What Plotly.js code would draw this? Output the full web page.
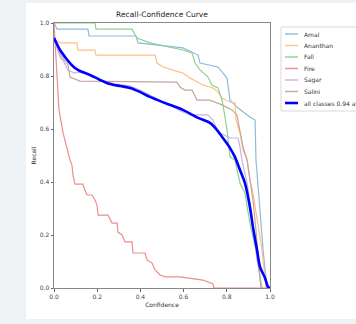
<!DOCTYPE html>
<html>
<head>
<meta charset="utf-8">
<script src="https://cdn.plot.ly/plotly-3.0.1.min.js"></script>
<style>
html,body{margin:0;padding:0;background:#eef2f5;}
#chart{width:356px;height:324px;}
</style>
</head>
<body>
<div id="chart"></div>
<script>
// ---- Data ----
const seriesNames = ["Amal", "Ananthan", "Fall", "Fire", "Sagar", "Salini", "all classes 0.94 at 0.000"];

const amalX = [0, 0.014, 0.157, 0.162, 0.38, 0.389, 0.597, 0.667, 0.676, 0.759, 0.801, 0.815, 0.852, 0.907, 0.931, 0.935, 0.94, 0.968, 0.986];
const amalY = [1.0, 0.977, 0.977, 0.951, 0.951, 0.925, 0.906, 0.879, 0.849, 0.834, 0.792, 0.709, 0.679, 0.645, 0.634, 0.483, 0.434, 0.143, 0];

const ananthanX = [0, 0.028, 0.106, 0.111, 0.19, 0.194, 0.468, 0.477, 0.505, 0.597, 0.63, 0.69, 0.736, 0.759, 0.778, 0.815, 0.838, 0.843, 0.861, 0.875, 0.894, 0.907, 0.921, 0.94, 0.963, 0.977, 0.981];
const ananthanY = [0.94, 0.925, 0.925, 0.898, 0.898, 0.879, 0.879, 0.849, 0.834, 0.811, 0.792, 0.766, 0.755, 0.74, 0.717, 0.702, 0.698, 0.634, 0.585, 0.521, 0.483, 0.408, 0.358, 0.268, 0.143, 0.042, 0];

const fallX = [0, 0.19, 0.194, 0.361, 0.384, 0.444, 0.597, 0.639, 0.653, 0.676, 0.713, 0.731, 0.759, 0.778, 0.792, 0.801, 0.815, 0.838, 0.861, 0.884, 0.907, 0.935, 0.954, 0.963];
const fallY = [1.0, 1.0, 0.977, 0.977, 0.943, 0.925, 0.898, 0.887, 0.849, 0.823, 0.796, 0.766, 0.755, 0.709, 0.645, 0.596, 0.494, 0.483, 0.396, 0.358, 0.245, 0.143, 0.042, 0];

const fireX = [0, 0.005, 0.014, 0.023, 0.042, 0.06, 0.074, 0.083, 0.088, 0.097, 0.134, 0.139, 0.153, 0.176, 0.19, 0.199, 0.204, 0.25, 0.269, 0.292, 0.296, 0.315, 0.329, 0.361, 0.366, 0.421, 0.431, 0.454, 0.468, 0.491, 0.514, 0.583, 0.69, 0.736, 0.741, 1.0];
const fireY = [1.0, 0.936, 0.785, 0.672, 0.585, 0.521, 0.483, 0.464, 0.426, 0.392, 0.392, 0.377, 0.351, 0.351, 0.332, 0.313, 0.275, 0.275, 0.245, 0.245, 0.211, 0.2, 0.174, 0.174, 0.132, 0.132, 0.106, 0.094, 0.068, 0.049, 0.042, 0.042, 0.03, 0.015, 0, 0];

const sagarX = [0, 0.009, 0.028, 0.046, 0.065, 0.093, 0.12, 0.167, 0.213, 0.282, 0.352, 0.398, 0.444, 0.505, 0.597, 0.63, 0.713, 0.736, 0.755, 0.769, 0.815, 0.852, 0.861, 0.87, 0.894, 0.917, 0.94, 0.954, 0.958];
const sagarY = [0.962, 0.917, 0.872, 0.853, 0.823, 0.811, 0.815, 0.804, 0.785, 0.77, 0.762, 0.747, 0.728, 0.702, 0.664, 0.653, 0.653, 0.634, 0.596, 0.585, 0.566, 0.566, 0.532, 0.483, 0.396, 0.268, 0.106, 0.042, 0];

const saliniX = [0, 0.019, 0.037, 0.065, 0.074, 0.12, 0.569, 0.583, 0.606, 0.639, 0.662, 0.722, 0.778, 0.824, 0.847, 0.861, 0.875, 0.894, 0.907, 0.921, 0.935, 0.944, 0.954, 0.958];
const saliniY = [0.955, 0.898, 0.872, 0.842, 0.796, 0.781, 0.777, 0.758, 0.747, 0.747, 0.709, 0.709, 0.691, 0.672, 0.653, 0.585, 0.532, 0.483, 0.408, 0.332, 0.219, 0.125, 0.03, 0];

const allX = [0, 0.028, 0.051, 0.074, 0.097, 0.12, 0.167, 0.213, 0.259, 0.306, 0.352, 0.398, 0.444, 0.514, 0.597, 0.667, 0.722, 0.755, 0.782, 0.815, 0.838, 0.861, 0.884, 0.907, 0.921, 0.94, 0.954, 0.977, 0.991, 1.0];
const allY = [0.943, 0.898, 0.872, 0.849, 0.83, 0.819, 0.804, 0.785, 0.77, 0.762, 0.755, 0.74, 0.721, 0.698, 0.672, 0.642, 0.623, 0.596, 0.566, 0.528, 0.494, 0.445, 0.396, 0.306, 0.23, 0.143, 0.079, 0.038, 0.004, 0];

const tickVals = [0, 0.2, 0.4, 0.6, 0.8, 1.0];
const tickText = ["0.0", "0.2", "0.4", "0.6", "0.8", "1.0"];

// ---- Styles ----
const colors = ["#8dbbdc", "#ffbf85", "#8fd18f", "#ee8c8c", "#c8b3dd", "#c4a69e", "#0000ff"];
const widths = [1.2, 1.2, 1.2, 1.2, 1.2, 1.2, 2.6];
const shapesLine = ["linear", "linear", "linear", "linear", "linear", "linear", "spline"];

const xs = [amalX, ananthanX, fallX, fireX, sagarX, saliniX, allX];
const ys = [amalY, ananthanY, fallY, fireY, sagarY, saliniY, allY];

const traces = xs.map((x, i) => ({
  x: x, y: ys[i], type: "scatter", mode: "lines", name: seriesNames[i],
  line: {color: colors[i], width: widths[i], shape: shapesLine[i], smoothing: 0.8},
  cliponaxis: false, showlegend: false, hoverinfo: "skip"
}));

// plot area geometry (px): left 54, right 270, top 23, bottom 288
const L = 54, R = 270, T = 23, B = 288;
const W = R - L, H = B - T;
const px = v => (v - L) / W;
const py = v => (B - v) / H;

const shapes = [
  // white panel
  {type: "rect", xref: "paper", yref: "paper", x0: px(26), x1: px(370), y0: py(319), y1: py(3),
   fillcolor: "#ffffff", line: {width: 0}, layer: "below"},
  // legend box
  {type: "rect", xref: "paper", yref: "paper", x0: px(281), x1: px(372), y0: py(111), y1: py(27),
   fillcolor: "#ffffff", line: {color: "#d9d9d9", width: 1}, layer: "above"}
];
const annotations = [];
seriesNames.forEach((n, i) => {
  const yy = 34 + 11.5 * i;
  shapes.push({type: "line", xref: "paper", yref: "paper", x0: px(285), x1: px(298), y0: py(yy), y1: py(yy),
    line: {color: colors[i], width: i === 6 ? 2.6 : 1.4}, layer: "above"});
  annotations.push({xref: "paper", yref: "paper", x: px(302), y: py(yy), xanchor: "left", yanchor: "middle",
    text: n, showarrow: false, font: {family: "DejaVu Sans", size: 6, color: "#333"}});
});

const layout = {
  width: 356, height: 324,
  margin: {l: L, r: 356 - R, t: T, b: 324 - B, pad: 0},
  paper_bgcolor: "#eef2f5",
  plot_bgcolor: "#ffffff",
  font: {family: "DejaVu Sans", size: 6, color: "#444"},
  title: {text: "Recall-Confidence Curve", x: 0.5, xref: "paper", xanchor: "center",
          y: 1 - 14 / 324, yanchor: "middle", font: {family: "DejaVu Sans", size: 7.5, color: "#222"}},
  xaxis: {range: [0, 1], tickvals: tickVals, ticktext: tickText, showgrid: false, zeroline: false,
          showline: true, mirror: true, linecolor: "#888", linewidth: 1,
          ticks: "outside", ticklen: 2.5, tickcolor: "#666", tickfont: {size: 6, color: "#444"},
          title: {text: "Confidence", standoff: 4, font: {size: 6, color: "#333"}}},
  yaxis: {range: [0, 1], tickvals: tickVals, ticktext: tickText, showgrid: false, zeroline: false,
          showline: true, mirror: true, linecolor: "#888", linewidth: 1,
          ticks: "outside", ticklen: 2.5, tickcolor: "#666", tickfont: {size: 6, color: "#444"},
          title: {text: "Recall", standoff: 2, font: {size: 6, color: "#333"}}},
  shapes: shapes,
  annotations: annotations,
  showlegend: false
};

Plotly.newPlot("chart", traces, layout, {displayModeBar: false, staticPlot: true});
</script>
</body>
</html>
